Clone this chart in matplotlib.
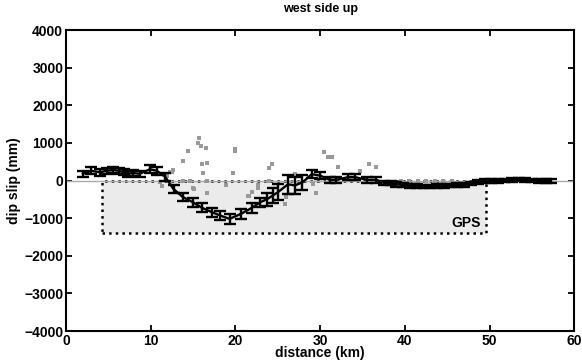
import matplotlib.pyplot as plt
from matplotlib.patches import Rectangle

plt.rcParams['font.family'] = ['Liberation Sans', 'DejaVu Sans']
plt.rcParams['font.weight'] = 'bold'
plt.rcParams['font.size'] = 10

# inverted dip slip profile (black, with error bars)
dist = [2.0, 3.0, 4.0, 4.8, 5.6, 6.2, 6.8, 7.3, 7.9, 8.7, 9.9, 10.7,
        11.7, 12.7, 13.8, 15.0, 16.0, 17.2, 18.2, 19.3, 20.7, 21.9, 22.9,
        23.7, 24.4, 25.0, 26.2, 27.0, 27.9, 29.0, 30.0, 31.1, 31.9, 33.3,
        34.1, 35.5, 36.6, 37.5, 38.3, 39.0, 39.8, 40.6, 41.4, 42.2, 43.0,
        43.8, 44.6, 45.4, 46.2, 47.0, 47.8, 48.6, 49.4, 50.2, 51.0, 51.8,
        52.6, 53.4, 54.2, 55.0, 55.8, 56.6, 57.2]
slip = [180, 260, 220, 260, 280, 260, 220, 180, 200, 180, 300, 260,
        100, -230, -440, -580, -720, -840, -930, -1020, -880, -730, -580,
        -500, -400, -310, -100, -130, -50, 170, 130, 20, 20, 90,
        90, 20, 20, -60, -70, -100, -120, -150, -150, -160, -160,
        -150, -150, -130, -120, -110, -80, -40, -20, -20, -10, 0,
        10, 30, 10, 0, -10, -20, -20]
err = [80, 90, 90, 80, 80, 80, 80, 80, 80, 80, 100, 100,
       110, 110, 110, 120, 120, 120, 130, 130, 130, 120, 120,
       180, 200, 220, 250, 220, 200, 100, 90, 80, 80, 80,
       80, 80, 80, 60, 60, 60, 60, 50, 50, 50, 50,
       50, 50, 50, 50, 50, 50, 50, 50, 50, 50, 50,
       50, 50, 50, 50, 50, 50, 50]

# scattered gray points
pts_x = [11.1, 11.3, 11.9, 12.3, 12.5, 12.65, 13.8, 14.4, 15.0, 15.1,
         15.6, 15.7, 15.9, 16.0, 16.2, 16.5, 16.6, 16.6, 18.9, 19.7,
         20.0, 20.0, 21.5, 21.6, 22.0, 22.6, 22.7, 24.0, 24.3, 25.8,
         26.0, 27.0, 29.2, 29.5, 30.5, 30.9, 31.4, 32.1, 34.7, 35.8,
         36.6, 13.8, 14.6, 16.6, 24.0, 39.5, 40.5, 41.5, 42.5, 43.5,
         44.5, 45.5]
pts_y = [-44, -133, 133, 221, 221, 284, 532, 780, -205, -222,
         993, 1135, 913, 444, 195, 870, 460, -328, -106, 195,
         851, 780, -400, -417, -293, -195, -106, 337, 444, -621,
         -443, 178, -89, -328, 753, 621, 621, 355, 248, 444,
         355, 0, 0, 0, 0, 0, 0, 0, 0, 0,
         0, 0]

fig = plt.figure(figsize=(5.82, 3.62), dpi=100)
ax = fig.add_axes([0.1134, 0.0856, 0.8736, 0.8314])

ax.add_patch(Rectangle((4.3, -1400), 49.6 - 4.3, 1400, facecolor='#ebebeb',
                       edgecolor='black', linestyle=':', linewidth=1.8, zorder=1))
ax.text(48.9, -1130, 'GPS', ha='right', va='center', fontweight='bold', zorder=2)
ax.axhline(0, color='#aaaaaa', linewidth=1.0, zorder=2)

ax.plot(pts_x, pts_y, 's', color='#999999', markersize=2.8,
        markeredgewidth=0, zorder=3)
ax.errorbar(dist, slip, yerr=err, color='black', linewidth=1.7,
            elinewidth=1.7, capsize=4, capthick=1.7, zorder=4)

ax.set_xlim(0, 60)
ax.set_ylim(-4000, 4000)
ax.set_xticks(range(0, 61, 10))
ax.set_yticks(range(-4000, 4001, 1000))
ax.tick_params(direction='in', top=True, right=True, length=4, width=1.3,
               pad=2)
for s in ax.spines.values():
    s.set_linewidth(1.5)

ax.set_title('west side up', fontsize=9, fontweight='bold', pad=13)
ax.set_xlabel('distance (km)', fontweight='bold', labelpad=-1)
ax.set_ylabel('dip slip (mm)', fontweight='bold', labelpad=2)

fig.savefig('out.png', dpi=100)
